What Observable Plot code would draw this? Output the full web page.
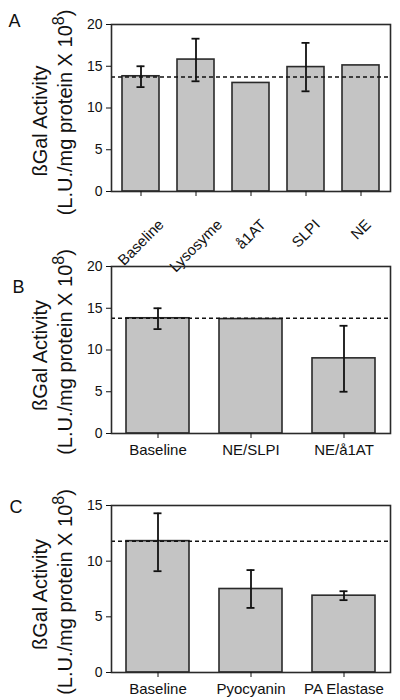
<!DOCTYPE html>
<html><head><meta charset="utf-8">
<script src="https://cdn.jsdelivr.net/npm/d3@7"></script>
<script src="https://cdn.jsdelivr.net/npm/@observablehq/plot@0.6"></script>
<style>
body{margin:0;background:#fff;}
#chart svg{display:block;overflow:visible;}
</style>
</head><body><div id="chart"></div>
<script>
// Panel A
const catsA = ["Baseline", "Lysosyme", "å1AT", "SLPI", "NE"];
const valsA = [13.8, 15.8, 13.0, 14.9, 15.1];
const loA = [12.5, 13.2, null, 12.0, null];
const hiA = [15.0, 18.3, null, 17.8, null];
const refA = 13.7;
// Panel B
const catsB = ["Baseline", "NE/SLPI", "NE/å1AT"];
const valsB = [13.8, 13.7, 9.0];
const loB = [12.5, null, 5.0];
const hiB = [15.0, null, 12.9];
const refB = 13.8;
// Panel C
const catsC = ["Baseline", "Pyocyanin", "PA Elastase"];
const valsC = [11.8, 7.5, 6.9];
const loC = [9.1, 5.8, 6.5];
const hiC = [14.3, 9.2, 7.3];
const refC = 11.8;
// Ticks
const ticksAB = [0, 5, 10, 15, 20];
const ticksC = [0, 5, 10, 15];
// Axis title pieces
const yTitleLine1 = "ßGal Activity";
const yTitleLine2 = "(L.U./mg protein X 10";
const yTitleExp = "8";
const yTitleClose = ")";

const FONT = "'Liberation Sans', Arial, Helvetica, sans-serif";
const container = document.getElementById("chart");
const ctx = document.createElement("canvas").getContext("2d");
function textWidth(s, size) { ctx.font = `${size}px ${FONT}`; return ctx.measureText(s).width; }

const T_SIZE = 20, E_SIZE = 16;
const wMain = textWidth(yTitleLine2, T_SIZE);
const wExp = textWidth(yTitleExp, E_SIZE);
const wClose = textWidth(yTitleClose, T_SIZE);
const wTotal = wMain + wExp + wClose;

function panel(o) {
  const data = o.cats.map((c, i) => ({cat: c, v: o.vals[i], lo: o.lo[i], hi: o.hi[i]}));
  const err = data.filter(d => d.lo != null);
  const start = o.l2dy + wTotal / 2;
  const plot = Plot.plot({
    width: 400,
    height: o.height,
    marginTop: o.mt,
    marginBottom: o.mb,
    marginLeft: 111,
    marginRight: 10,
    style: {fontFamily: FONT, fontSize: "14px", color: "#111", overflow: "visible"},
    x: {domain: o.cats, paddingInner: o.pi, paddingOuter: o.po, label: null},
    y: {domain: o.domain, label: null},
    marks: [
      Plot.barY(data, {x: "cat", y: "v", fill: "#c4c4c4", stroke: "#2a2a2a", strokeWidth: 1.6}),
      Plot.ruleX(err, {x: "cat", y1: "lo", y2: "hi", stroke: "#111", strokeWidth: 1.8}),
      Plot.tickY(err, {x: "cat", y: "lo", stroke: "#111", strokeWidth: 1.8, insetLeft: o.capInset, insetRight: o.capInset}),
      Plot.tickY(err, {x: "cat", y: "hi", stroke: "#111", strokeWidth: 1.8, insetLeft: o.capInset, insetRight: o.capInset}),
      Plot.ruleY([o.ref], {stroke: "#111", strokeWidth: 1.5, strokeDasharray: "4,3"}),
      Plot.frame({stroke: "#2a2a2a", strokeWidth: 1.6}),
      Plot.axisY({ticks: o.ticks, tickSize: 5, tickPadding: 4, fontSize: 14, tickFormat: d3.format("d")}),
      o.rotate
        ? Plot.axisX({tickSize: 5, tickRotate: -45, fontSize: 15})
        : Plot.axisX({tickSize: 5, tickPadding: 6, fontSize: 15}),
      Plot.text([yTitleLine1], {text: d => d, frameAnchor: "left", rotate: -90, textAnchor: "middle", dx: -71, dy: o.l1dy, fontSize: T_SIZE}),
      Plot.text([yTitleLine2], {text: d => d, frameAnchor: "left", rotate: -90, textAnchor: "start", dx: -46, dy: start, fontSize: T_SIZE}),
      Plot.text([yTitleExp], {text: d => d, frameAnchor: "left", rotate: -90, textAnchor: "start", dx: -53, dy: start - wMain, fontSize: E_SIZE}),
      Plot.text([yTitleClose], {text: d => d, frameAnchor: "left", rotate: -90, textAnchor: "start", dx: -46, dy: start - wMain - wExp, fontSize: T_SIZE}),
      Plot.text([o.letter], {text: d => d, frameAnchor: "top-left", textAnchor: "start", dx: o.ldx, dy: o.ldy, fontSize: 18})
    ]
  });
  container.appendChild(plot);

  // rotated labels: center their box under the tick, top at a fixed offset
  if (o.rotate) {
    const g = plot.querySelector('g[aria-label="x-axis tick label"]');
    if (g) {
      g.setAttribute("text-anchor", "middle");
      const bottom = o.height - o.mb;
      g.querySelectorAll("text").forEach(t => {
        const m = /translate\(([-\d.]+),\s*([-\d.]+)\)/.exec(t.getAttribute("transform") || "");
        if (!m) return;
        const x = +m[1];
        t.setAttribute("text-anchor", "middle");
        t.setAttribute("y", "0.32em");
        const L = t.getComputedTextLength();
        const cap = 0.72 * 15;
        const y = bottom + 15 + 0.7071 * (L + cap) / 2;
        t.setAttribute("transform", `translate(${x},${y}) rotate(-45)`);
      });
    }
  }
}

panel({cats: catsA, vals: valsA, lo: loA, hi: hiA, ref: refA, ticks: ticksAB, domain: [0, 20],
  height: 241, mt: 24, mb: 50, pi: 0.33, po: 0.17, capInset: 14.5, rotate: true,
  letter: "A", ldx: -103, ldy: -10, l1dy: 13, l2dy: 4.5});
panel({cats: catsB, vals: valsB, lo: loB, hi: hiB, ref: refB, ticks: ticksAB, domain: [0, 20],
  height: 221, mt: 25, mb: 29, pi: 0.32, po: 0.16, capInset: 27.5, rotate: false,
  letter: "B", ldx: -99, ldy: 14, l1dy: 5.5, l2dy: 2});
panel({cats: catsC, vals: valsC, lo: loC, hi: hiC, ref: refC, ticks: ticksC, domain: [0, 15],
  height: 238, mt: 43, mb: 28, pi: 0.32, po: 0.16, capInset: 27.5, rotate: false,
  letter: "C", ldx: -102, ldy: -5, l1dy: 5.5, l2dy: 3});
</script>
</body></html>
